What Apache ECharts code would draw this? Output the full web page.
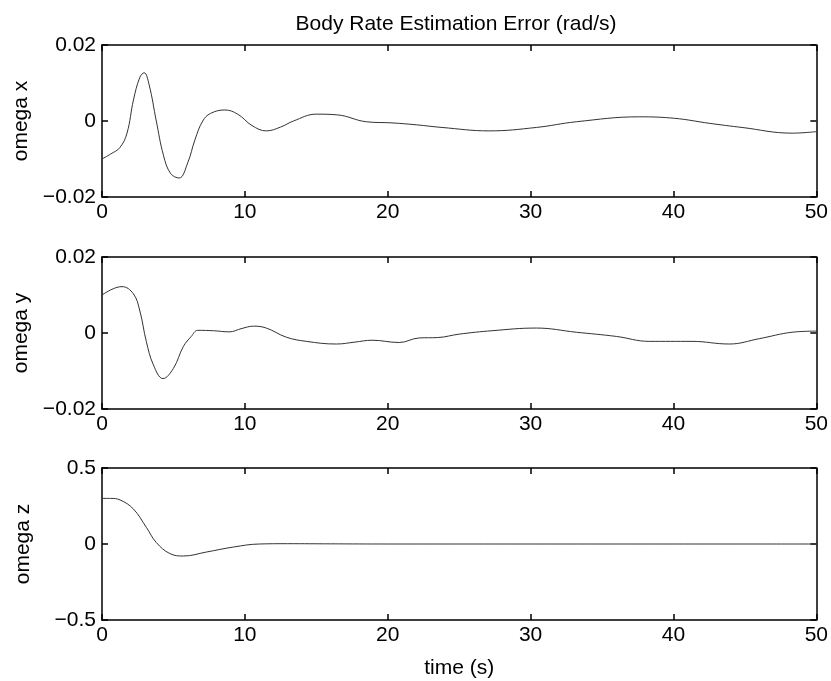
<!DOCTYPE html>
<html>
<head>
<meta charset="utf-8">
<script src="https://cdn.jsdelivr.net/npm/echarts@6/dist/echarts.min.js"></script>
<style>
html, body { margin: 0; padding: 0; background: #fff; }
#main { width: 831px; height: 681px; }
</style>
</head>
<body>
<div id="main"></div>
<script>
// x ticks (s)
var timeTicks = [0, 10, 20, 30, 40, 50];

// omega x  (rad/s)
var timeX = [0, 0.6, 1.25, 1.75, 2.2, 2.65, 2.95, 3.3, 3.8, 4.3, 4.8, 5.4, 6, 6.5, 7.05, 7.6, 8.6, 9.5, 10.5, 11.5, 12.5, 13.4, 15, 16.5, 18.5, 20.3, 22, 23.8, 27.1, 30.4, 33.2, 37.6, 40.1, 42.5, 44.8, 48.3, 50];
var omegaX = [-0.0100, -0.0087, -0.0070, -0.0032, 0.0055, 0.0115, 0.0127, 0.0095, 0.0000, -0.0090, -0.0138, -0.0150, -0.0110, -0.0050, 0.0000, 0.0020, 0.0029, 0.0018, -0.0012, -0.0026, -0.0016, 0.0000, 0.0018, 0.0016, -0.0002, -0.0005, -0.0010, -0.0017, -0.0026, -0.0017, -0.0002, 0.0011, 0.0007, -0.0006, -0.0017, -0.0032, -0.0028];

// omega y  (rad/s)
var timeY = [0, 0.7, 1.4, 2.2, 2.65, 3.1, 3.6, 4.27, 5, 5.7, 6.25, 6.7, 7.8, 8.9, 9.8, 10.6, 11.5, 12.9, 14.3, 16.4, 17.7, 18.9, 20.8, 22.2, 23.5, 25, 27.3, 30.4, 33.2, 36, 38.3, 41.3, 43.9, 46, 48.3, 50];
var omegaY = [0.0100, 0.0115, 0.0122, 0.0103, 0.0058, -0.0022, -0.0084, -0.0120, -0.0093, -0.0035, -0.0009, 0.0007, 0.0006, 0.0003, 0.0012, 0.0018, 0.0013, -0.0011, -0.0022, -0.0029, -0.0024, -0.0019, -0.0025, -0.0013, -0.0012, -0.0003, 0.0006, 0.0013, 0.0002, -0.0009, -0.0022, -0.0022, -0.0029, -0.0015, 0.0002, 0.0005];

// omega z  (rad/s)
var timeZ = [0, 0.6, 1.26, 2.2, 3.1, 3.8, 4.75, 5.7, 7.3, 9.2, 11, 13, 16, 20, 30, 40, 50];
var omegaZ = [0.300, 0.300, 0.290, 0.230, 0.110, 0.010, -0.063, -0.079, -0.053, -0.020, 0.000, 0.002, 0.001, 0.000, 0.000, 0.000, 0.000];

var subplotNames = ['omega x', 'omega y', 'omega z'];
var yMins = [-0.02, -0.02, -0.5];
var yMaxs = [0.02, 0.02, 0.5];
var yIntervals = [0.02, 0.02, 0.5];

var myChart = echarts.init(document.getElementById('main'));

var fontFam = 'Liberation Sans, Arial, sans-serif';
var gridTops = [45, 257, 468];

function pairs(ts, vs) {
    var out = [];
    for (var i = 0; i < ts.length; i++) out.push([ts[i], vs[i]]);
    return out;
}
var seriesData = [pairs(timeX, omegaX), pairs(timeY, omegaY), pairs(timeZ, omegaZ)];

var boxLine = { show: true, onZero: false, lineStyle: { color: '#000', width: 1.5 } };
var boxTick = { show: true, inside: true, length: 6, lineStyle: { color: '#000', width: 1.5 } };

var grids = [], xAxes = [], yAxes = [], series = [];
for (var i = 0; i < 3; i++) {
    grids.push({ left: 102, right: 13, top: gridTops[i], height: 152 });
    // bottom x
    xAxes.push({
        type: 'value', gridIndex: i, min: 0, max: 50, interval: 10,
        position: 'bottom',
        name: i === 2 ? 'time (s)' : '',
        nameLocation: 'middle', nameGap: 38,
        nameTextStyle: { color: '#000', fontSize: 21, fontFamily: fontFam },
        axisLine: boxLine,
        axisTick: boxTick,
        axisLabel: { color: '#000', fontSize: 21, fontFamily: fontFam, margin: 5,
            formatter: function (v) { return timeTicks.indexOf(v) >= 0 ? String(v) : ''; } },
        splitLine: { show: false }
    });
    // top x (box)
    xAxes.push({
        type: 'value', gridIndex: i, min: 0, max: 50, interval: 10,
        position: 'top',
        axisLine: boxLine,
        axisTick: boxTick,
        axisLabel: { show: false },
        splitLine: { show: false }
    });
    // left y
    yAxes.push({
        type: 'value', gridIndex: i, min: yMins[i], max: yMaxs[i], interval: yIntervals[i],
        position: 'left',
        name: subplotNames[i],
        nameLocation: 'middle', nameGap: 68, nameRotate: 90,
        nameTextStyle: { color: '#000', fontSize: 21, fontFamily: fontFam },
        axisLine: boxLine,
        axisTick: boxTick,
        axisLabel: { color: '#000', fontSize: 21, fontFamily: fontFam, margin: 6,
            formatter: function (v) { return v === 0 ? '0' : (v < 0 ? '\u2212' + String(-v) : String(v)); } },
        splitLine: { show: false }
    });
    // right y (box)
    yAxes.push({
        type: 'value', gridIndex: i, min: yMins[i], max: yMaxs[i], interval: yIntervals[i],
        position: 'right',
        axisLine: boxLine,
        axisTick: boxTick,
        axisLabel: { show: false },
        splitLine: { show: false }
    });
    series.push({
        type: 'line',
        xAxisIndex: i * 2,
        yAxisIndex: i * 2,
        data: seriesData[i],
        showSymbol: false,
        smooth: 0.4,
        lineStyle: { color: '#333', width: 1 },
        animation: false
    });
}

var option = {
    backgroundColor: '#fff',
    animation: false,
    title: {
        text: 'Body Rate Estimation Error (rad/s)',
        left: 451, top: 9, textAlign: 'center',
        textStyle: { color: '#000', fontSize: 21, fontWeight: 'normal', fontFamily: fontFam }
    },
    grid: grids,
    xAxis: xAxes,
    yAxis: yAxes,
    series: series
};

myChart.setOption(option);
</script>
</body>
</html>
